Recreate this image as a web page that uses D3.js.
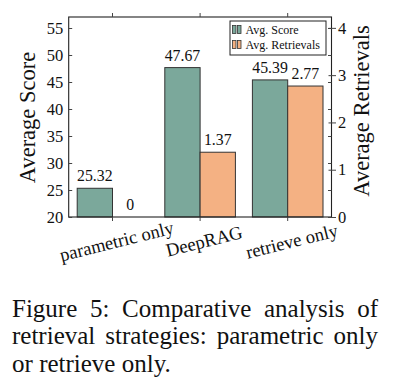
<!DOCTYPE html>
<html>
<head>
<meta charset="utf-8">
<script src="https://cdn.jsdelivr.net/npm/d3@7"></script>
<style>
  body { margin: 0; background: #fff; }
  svg { display: block; }
</style>
</head>
<body>
<div id="chart"></div>
<script>
const categories = ["parametric only", "DeepRAG", "retrieve only"];
const scoreValues = [25.32, 47.67, 45.39];
const retrievalValues = [0, 1.37, 2.77];
const scoreTicks = [20, 25, 30, 35, 40, 45, 50, 55];
const retrievalTicks = [0, 1, 2, 3, 4];
const seriesNames = ["Avg. Score", "Avg. Retrievals"];
const captionLines = [
    "Figure 5: Comparative analysis of",
    "retrieval strategies: parametric only",
    "or retrieve only."
];

const W = 393, H = 389;
const plot = { left: 68.7, right: 331.5, top: 17, bottom: 217 };
const colors = ["#7ba89b", "#f4b183"];
const FONT = "Liberation Serif";

const svg = d3.select("#chart").append("svg")
    .attr("width", W).attr("height", H)
    .attr("font-family", FONT);

const x = d3.scaleBand()
    .domain(categories)
    .range([plot.left, plot.right]);

const xs = d3.scaleBand()
    .domain(seriesNames)
    .range([-35.3, 35.3]);

const yL = d3.scaleLinear().domain([20, 57.04]).range([plot.bottom, plot.top]);
const yR = d3.scaleLinear().domain([0, 4.23]).range([plot.bottom, plot.top]);

const rows = categories.map((c, i) => ({ cat: c, score: scoreValues[i], ret: retrievalValues[i] }));

// bars + value labels
const g = svg.append("g");
rows.forEach(d => {
    const cx = x(d.cat) + x.bandwidth() / 2;
    g.append("rect")
        .attr("x", cx + xs("Avg. Score"))
        .attr("y", yL(d.score))
        .attr("width", xs.bandwidth())
        .attr("height", plot.bottom - yL(d.score))
        .attr("fill", colors[0])
        .attr("stroke", "#333").attr("stroke-width", 1);
    g.append("rect")
        .attr("x", cx + xs("Avg. Retrievals"))
        .attr("y", yR(d.ret))
        .attr("width", xs.bandwidth())
        .attr("height", plot.bottom - yR(d.ret))
        .attr("fill", colors[1])
        .attr("stroke", "#333").attr("stroke-width", 1);

    g.append("text")
        .attr("x", cx + xs("Avg. Score") + xs.bandwidth() / 2)
        .attr("y", yL(d.score) - 7)
        .attr("text-anchor", "middle")
        .attr("font-size", 15.8)
        .text(d.score.toFixed(2));
    g.append("text")
        .attr("x", cx + xs("Avg. Retrievals") + xs.bandwidth() / 2)
        .attr("y", yR(d.ret) - 7)
        .attr("text-anchor", "middle")
        .attr("font-size", 15.8)
        .text(d.ret === 0 ? "0" : d.ret.toFixed(2));
});

// frame
svg.append("rect")
    .attr("x", plot.left).attr("y", plot.top)
    .attr("width", plot.right - plot.left).attr("height", plot.bottom - plot.top)
    .attr("fill", "none").attr("stroke", "#222").attr("stroke-width", 1.1);

// left axis (ticks inside)
const leftAxis = svg.append("g")
    .attr("transform", `translate(${plot.left},0)`)
    .call(d3.axisLeft(yL).tickValues(scoreTicks).tickSize(-3.5).tickPadding(5.5));
leftAxis.select(".domain").remove();
leftAxis.selectAll("line").attr("stroke", "#444");
leftAxis.attr("font-size", 16.5);

// left ticks mirrored on the right side
svg.append("g")
    .attr("transform", `translate(${plot.right},0)`)
    .call(d3.axisRight(yL).tickValues(scoreTicks).tickSize(-3.5).tickFormat(""))
    .call(a => a.select(".domain").remove())
    .selectAll("line").attr("stroke", "#444");

// right axis
const rightAxis = svg.append("g")
    .attr("transform", `translate(${plot.right},0)`)
    .call(d3.axisRight(yR).tickValues(retrievalTicks).tickFormat(d3.format("d")).tickSize(4.5).tickPadding(2));
rightAxis.select(".domain").remove();
rightAxis.selectAll("line").attr("stroke", "#444").attr("x1", -3);
rightAxis.attr("font-size", 16.5);

// x ticks on bottom and top
svg.append("g")
    .attr("transform", `translate(0,${plot.bottom})`)
    .call(d3.axisBottom(x).tickSize(4).tickFormat(""))
    .call(a => a.select(".domain").remove())
    .selectAll("line").attr("stroke", "#444");
svg.append("g")
    .attr("transform", `translate(0,${plot.top})`)
    .call(d3.axisTop(x).tickSize(4).tickFormat(""))
    .call(a => a.select(".domain").remove())
    .selectAll("line").attr("stroke", "#444");

// rotated category labels
categories.forEach(c => {
    const cx = x(c) + x.bandwidth() / 2 + 4;
    svg.append("text")
        .attr("transform", `translate(${cx},241) rotate(-14)`)
        .attr("text-anchor", "middle")
        .attr("dy", "0.35em")
        .attr("font-size", 18.5)
        .text(c);
});

// axis titles
svg.append("text")
    .attr("transform", `translate(27,117.5) rotate(-90)`)
    .attr("text-anchor", "middle").attr("dy", "0.35em")
    .attr("font-size", 22.5)
    .text("Average Score");
svg.append("text")
    .attr("transform", `translate(361,111) rotate(-90)`)
    .attr("text-anchor", "middle").attr("dy", "0.35em")
    .attr("font-size", 22.5)
    .text("Average Retrievals");

// legend
const lg = svg.append("g");
lg.append("rect")
    .attr("x", 230).attr("y", 21).attr("width", 96).attr("height", 34)
    .attr("fill", "#fff").attr("stroke", "#222").attr("stroke-width", 1);
seriesNames.forEach((s, i) => {
    const yy = 25.5 + i * 15;
    [0, 5].forEach(off => {
        lg.append("rect")
            .attr("x", 232.5 + off).attr("y", yy)
            .attr("width", 3.5).attr("height", 8)
            .attr("fill", colors[i]).attr("stroke", "#333").attr("stroke-width", 0.8);
    });
    lg.append("text")
        .attr("x", 245.5).attr("y", yy + 8)
        .attr("font-size", 12)
        .text(s);
});

svg.selectAll("text").attr("font-family", FONT).attr("fill", "#111");
svg.selectAll("g").attr("font-family", FONT);

// caption, justified
const capLeft = 12, capRight = 378;
const capBase = [316.5, 344, 371.5];
captionLines.forEach((line, li) => {
    const words = line.split(" ");
    const tmp = svg.append("g");
    const nodes = words.map(w => tmp.append("text")
        .attr("font-family", FONT).attr("font-size", 25).attr("fill", "#111").text(w));
    const widths = nodes.map(n => n.node().getComputedTextLength());
    const total = d3.sum(widths);
    const justify = li < captionLines.length - 1;
    const gap = justify ? (capRight - capLeft - total) / (words.length - 1) : 6.3;
    let px = capLeft;
    nodes.forEach((n, i) => {
        n.attr("x", px).attr("y", capBase[li]);
        px += widths[i] + gap;
    });
});
</script>
</body>
</html>
